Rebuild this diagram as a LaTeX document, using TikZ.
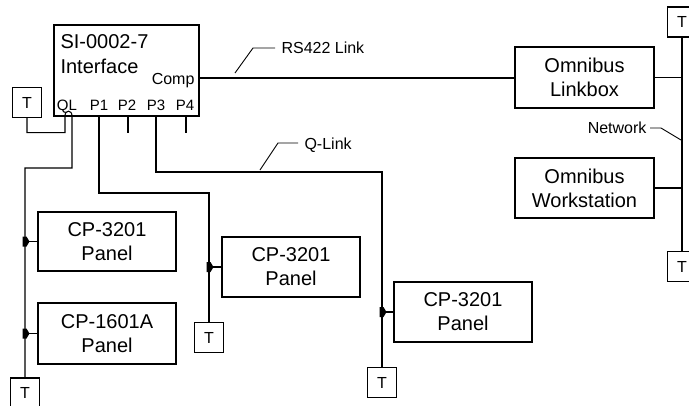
\documentclass[tikz,border=0pt]{standalone}
\usepackage{fontspec}
\setmainfont{Liberation Sans}
\usetikzlibrary{calc}
\begin{document}
\begin{tikzpicture}[x=1pt,y=-1pt,line width=1.1pt,
  box/.style={draw,inner sep=0pt,align=center,font=\fontsize{20}{24}\selectfont},
  tbox/.style={draw,inner sep=0pt,minimum width=29pt,minimum height=30pt,font=\fontsize{16}{16}\selectfont},
  lbl/.style={inner sep=0pt,font=\fontsize{16}{16}\selectfont},
  big/.style={inner sep=0pt,font=\fontsize{20}{20}\selectfont},
  port/.style={inner sep=0pt,anchor=base,font=\fontsize{15}{15}\selectfont}]
\useasboundingbox (0,0) rectangle (689,405);
% interface
\node[draw,inner sep=0pt,minimum width=145pt,minimum height=91pt] (si) at (126.5,70.5) {};
\node[big,anchor=base west] (t1) at (60,48) {SI-0002-7};
\node[big,anchor=base west] (t2) at (60,73) {Interface};
\node[lbl,anchor=base east] (tc) at (195,84) {Comp};
\node[port] (lql) at (67,110) {QL};
\node[port] (lp1) at (99,110) {P1};
\node[port] (lp2) at (127,110) {P2};
\node[port] (lp3) at (156,110) {P3};
\node[port] (lp4) at (185,110) {P4};
\coordinate (ql) at (72,116);
\coordinate (hl) at (65,116);
\coordinate (p1) at (99,116);
\coordinate (p2) at (128,116);
\coordinate (p3) at (156,116);
\coordinate (p4) at (186,116);
\coordinate (comp) at (199,78);
% boxes
\node[box,minimum width=139pt,minimum height=61pt] (lb) at (584.5,77.5) {Omnibus\\Linkbox};
\node[box,minimum width=139pt,minimum height=60pt] (ws) at (584.5,188) {Omnibus\\Workstation};
\node[box,minimum width=138pt,minimum height=59pt] (cp1) at (107,241.5) {CP-3201\\Panel};
\node[box,minimum width=138pt,minimum height=61pt] (cp2) at (107,333.5) {CP-1601A\\Panel};
\node[box,minimum width=138pt,minimum height=60pt] (cp3) at (291,267) {CP-3201\\Panel};
\node[box,minimum width=138pt,minimum height=60pt] (cp4) at (463,312) {CP-3201\\Panel};
% terminators
\node[tbox] (T1) at (27,102.5) {T};
\node[tbox] (T2) at (25,393) {T};
\node[tbox] (T3) at (209,337.5) {T};
\node[tbox] (T4) at (382,382.5) {T};
\node[tbox] (T5) at (682,22) {T};
\node[tbox] (T6) at (682,266.5) {T};
% RS422
\draw (comp) -- (comp -| lb.west);
\coordinate (rsa) at (235,73);
\coordinate (rsb) at (253,48);
\coordinate (rsc) at (275,48);
\draw[line width=0.9pt] (rsa) -- (rsb) -- (rsc);
\node[lbl,anchor=base west] (rsl) at (281,53) {RS422 Link};
% network
\draw (T5.south) -- (T6.north);
\draw (lb.east) -- (lb.east -| T5.south);
\draw (ws.east) -- (ws.east -| T5.south);
\coordinate (nwa) at (650,128);
\coordinate (nwb) at (661,128);
\coordinate (nwc) at (681,140);
\draw[line width=0.9pt] (nwa) -- (nwb) -- (nwc);
\node[lbl,anchor=base east] (nwl) at (647,133) {Network};
% Q-link
\draw (T1.south) -- ++(0,14.5) -| (hl) .. controls (65,109.5) and (72,109.5) .. (ql) -- ++(0,52) -| (T2.north);
\draw (p1) -- ++(0,77) -| (T3.north);
\draw (p3) -- ++(0,56) -| (T4.north);
\draw (p2) -- ++(0,17);
\draw (p4) -- ++(0,17);
\coordinate (qla) at (260,170);
\coordinate (qlb) at (278,143);
\coordinate (qlc) at (298,143);
\draw[line width=0.9pt] (qla) -- (qlb) -- (qlc);
\node[lbl,anchor=base west] (qll) at (304,149) {Q-Link};
% taps
\foreach \b/\bus in {cp1/T2,cp2/T2,cp3/T3,cp4/T4}{
  \draw (\b.west) -- (\b.west -| \bus.north);
  \fill ($(\b.west -| \bus.north)+(-2.5,-5)$) -- ++(4,0) -- ++(3,5) -- ++(-3,5) -- ++(-4,0) -- cycle;
}
\end{tikzpicture}
\end{document}
